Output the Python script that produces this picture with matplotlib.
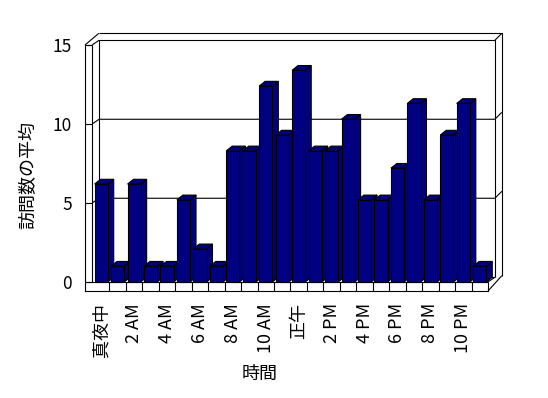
import matplotlib
matplotlib.use('Agg')
import matplotlib.pyplot as plt
from matplotlib.patches import Polygon

plt.rcParams['font.family'] = ['Noto Sans CJK JP', 'DejaVu Sans']

# average visits per hour
hours = list(range(24))
visits = [6.2, 1.0, 6.2, 1.0, 1.0, 5.2, 2.1, 1.0, 8.3, 8.3, 12.4, 9.3,
          13.4, 8.3, 8.3, 10.3, 5.2, 5.2, 7.2, 11.3, 5.2, 9.3, 11.3, 1.0]
tick_pos = list(range(0, 24, 2))
tick_labels = ['真夜中', '2 AM', '4 AM', '6 AM', '8 AM', '10 AM',
               '正午', '2 PM', '4 PM', '6 PM', '8 PM', '10 PM']
yticks = [0, 5, 10, 15]

bar_color = '#000080'
lw = 0.8
# fake 3d depth (data units)
dx, dy = 0.42, 0.3      # front plane -> back wall
tx, ty = 0.42, 0.44     # back wall thickness
bdx, bdy = 0.36, 0.3    # bar depth
half = 0.4
x0, x_in, x1 = -0.985, -0.55, 23.5
floor = -0.57
ymax = 15

fig = plt.figure(figsize=(5.48, 3.98), dpi=100)
ax = fig.add_axes([85/548, 1-291/398, 403/548, 246/398])
ax.set_xlim(x0, x1)
ax.set_ylim(floor, ymax)

def line(xs, ys):
    ax.plot(xs, ys, color='black', lw=lw, clip_on=False, zorder=1,
            solid_capstyle='butt')

# back wall
bx0, bx1 = x_in + dx, x1 + dx
line([bx0, bx0, bx1, bx1], [dy, ymax + dy, ymax + dy, dy])
line([x0 + dx + tx, bx1 + tx, bx1 + tx], [ymax + dy + ty, ymax + dy + ty, dy + 0.1])
line([bx1, bx1 + tx], [ymax + dy, ymax + dy + ty])
# left wall
line([x_in, x_in], [0, ymax])
line([x0, x_in], [ymax, ymax])
line([x0, x0 + dx + tx], [ymax, ymax + dy + ty])
line([x_in, bx0], [ymax, ymax + dy])
# gridlines
for v in yticks[1:-1]:
    line([x_in, bx0, bx1, bx1 + tx], [v, v + dy, v + dy, v + dy + ty])
# floor
line([x0, x1], [0, 0])
line([x1, x1], [floor, 0])
line([x1, bx1 + tx], [floor, dy + 0.1])
line([x1, bx1], [0, dy])
line([bx0, bx1], [dy, dy])
for i in hours[:-1]:
    line([i + 0.5, i + 0.5], [floor, 0])

# bars
bars = ax.bar(hours, visits, width=2 * half, color=bar_color,
              edgecolor='black', linewidth=lw)
for i, v in enumerate(visits):
    z = 3 + i * 0.01
    side = Polygon([(i + half, 0), (i + half + bdx, bdy),
                    (i + half + bdx, v + bdy), (i + half, v)],
                   closed=True, facecolor=bar_color, edgecolor='black',
                   linewidth=lw, zorder=z, clip_on=False)
    top = Polygon([(i - half, v), (i - half + bdx, v + bdy),
                   (i + half + bdx, v + bdy), (i + half, v)],
                  closed=True, facecolor=bar_color, edgecolor='black',
                  linewidth=lw, zorder=z, clip_on=False)
    ax.add_patch(side)
    ax.add_patch(top)
    bars[i].set_zorder(z + 0.005)
    bars[i].set_clip_on(False)

ax.spines['top'].set_visible(False)
ax.spines['right'].set_visible(False)
ax.spines['left'].set_linewidth(lw)
ax.spines['bottom'].set_linewidth(lw)

ax.set_yticks(yticks)
ax.tick_params(axis='y', direction='in', length=5.2, width=lw, pad=9.4,
               labelsize=12.5)
ax.set_xticks(tick_pos)
ax.set_xticklabels(tick_labels, rotation=90, ha='center', va='top')
ax.tick_params(axis='x', length=0, pad=8.6, labelsize=13)

ax.set_xlabel('時間', fontsize=13)
ax.xaxis.set_label_coords(0.434, -0.3)
ax.set_ylabel('訪問数の平均', fontsize=13)
ax.yaxis.set_label_coords(-0.117, 0.472)

fig.savefig('out.png', dpi=100)
